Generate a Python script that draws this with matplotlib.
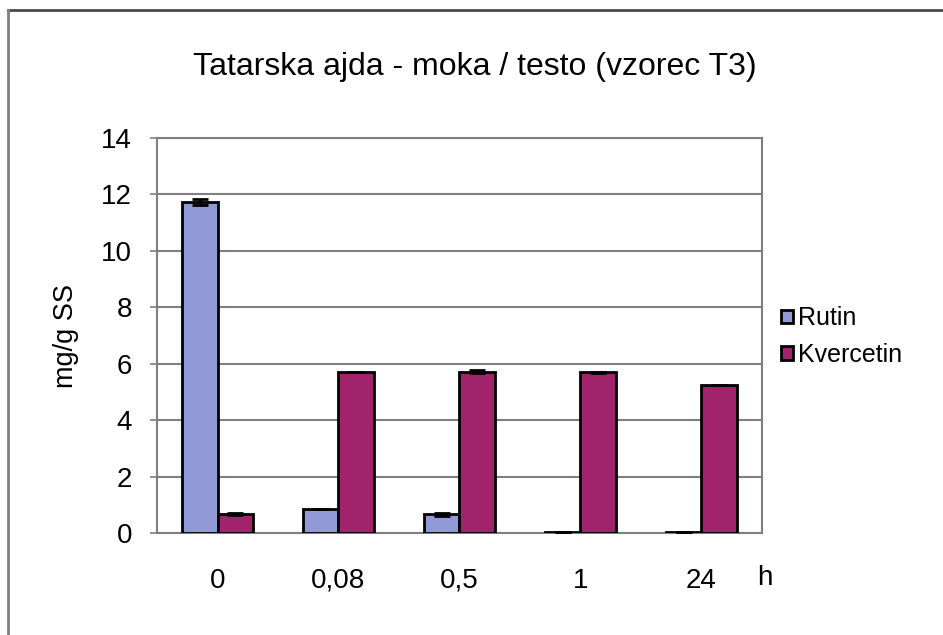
import matplotlib.pyplot as plt
import numpy as np
from matplotlib.lines import Line2D

plt.rcParams["font.family"] = ["Liberation Sans", "DejaVu Sans"]

kategorije = ["0", "0,08", "0,5", "1", "24"]
rutin = [11.72, 0.84, 0.67, 0.02, 0.02]
rutin_err = [0.10, 0.0, 0.05, 0.0, 0.0]
kvercetin = [0.67, 5.69, 5.72, 5.69, 5.26]
kvercetin_err = [0.03, 0.0, 0.05, 0.03, 0.0]

fig = plt.figure(figsize=(9.43, 6.35), dpi=100)
ax = fig.add_axes([0.1665, 0.1606, 0.6415, 0.6221])

x = np.arange(len(kategorije))
w = 0.29
ax.bar(x - w / 2, rutin, w, color="#8f9ad6", edgecolor="black", linewidth=2,
       label="Rutin", zorder=3)
ax.bar(x + w / 2, kvercetin, w, color="#a0236b", edgecolor="black", linewidth=2,
       label="Kvercetin", zorder=3)
ax.errorbar(x - w / 2, rutin, yerr=rutin_err, fmt="none", ecolor="black",
            elinewidth=2, capsize=6, capthick=2, zorder=4)
ax.errorbar(x + w / 2, kvercetin, yerr=kvercetin_err, fmt="none", ecolor="black",
            elinewidth=2, capsize=6, capthick=2, zorder=4)

ax.set_xlim(-0.5, len(kategorije) - 0.5)
ax.set_ylim(0, 14)
ax.set_yticks(range(0, 15, 2))
ax.yaxis.grid(True, color="#7f7f7f", linewidth=1.5, zorder=0)
ax.set_xticks(x)
ax.set_xticklabels(kategorije, fontsize=20)
ax.tick_params(axis="x", length=0, pad=25)
ax.tick_params(axis="y", labelsize=20, length=5, width=1.2, color="#7f7f7f", pad=13)
for s in ax.spines.values():
    s.set_color("#7f7f7f")
    s.set_linewidth(1.5)

ax.set_ylabel("mg/g SS", fontsize=19.5, labelpad=16)
ax.text(1.005, -0.115, "h", transform=ax.transAxes, fontsize=20, ha="center", va="center")

fig.suptitle("Tatarska ajda - moka / testo (vzorec T3)", fontsize=23, x=0.503, y=0.918)

ax.legend(loc="center left", bbox_to_anchor=(0.995, 0.497), frameon=False, fontsize=18,
          handlelength=0.45, handleheight=0.45, handletextpad=0.2, labelspacing=0.5)

fig.add_artist(Line2D([0.0085, 1.0], [0.985, 0.985], color="#4a4a4a", linewidth=2))
fig.add_artist(Line2D([0.0085, 0.0085], [0.0, 0.985], color="#7f7f7f", linewidth=2))

fig.savefig("out.png", dpi=100)
